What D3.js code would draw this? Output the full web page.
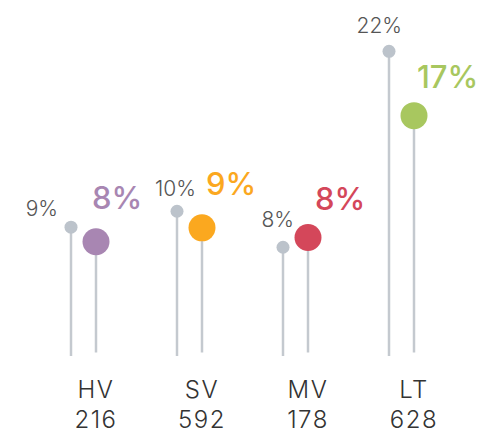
<!DOCTYPE html>
<html>
<head>
<meta charset="utf-8">
<script src="https://cdn.jsdelivr.net/npm/d3@7"></script>
<style>
  body { margin: 0; background: #fff; }
  svg { display: block; font-family: Inter, "Open Sans", sans-serif; }
</style>
</head>
<body>
<div id="chart"></div>
<script>
// data
const categories = ['HV', 'SV', 'MV', 'LT'];
const counts = [216, 592, 178, 628];
const greyValues = [9.3, 10.45, 7.85, 22.0];   // small grey lollipops
const mainValues = [8.0, 9.0, 8.3, 17.1];      // big coloured lollipops
const mainColors = ['#a886b2', '#fba81f', '#d4475a', '#a8c75f'];

// label nudges (layout only)
const greyNudge = [[-13, -11], [19, -15], [11, -20], [13, -18]];
const mainNudge = [[-4, -33], [4, -33], [7, -28], [3, -28]];

const width = 478, height = 437;
const stemColor = '#c4c9cf';

const svg = d3.select('#chart')
    .append('svg')
    .attr('width', width)
    .attr('height', height);

const x = d3.scaleBand()
    .domain(categories)
    .range([30.5, 454.5])
    .padding(0);

const y = d3.scaleLinear()
    .domain([0, 22])
    .range([356, 51.3]);

const offset = 12.5;
const cx = c => x(c) + x.bandwidth() / 2;

const groups = svg.selectAll('g.group')
    .data(categories)
    .join('g')
    .attr('class', 'group');

// grey lollipops
groups.append('line')
    .attr('x1', c => cx(c) - offset)
    .attr('x2', c => cx(c) - offset)
    .attr('y1', y(0))
    .attr('y2', (c, i) => y(greyValues[i]))
    .attr('stroke', stemColor)
    .attr('stroke-width', 2.5);

groups.append('circle')
    .attr('cx', c => cx(c) - offset)
    .attr('cy', (c, i) => y(greyValues[i]))
    .attr('r', 6.5)
    .attr('fill', '#bcc3cb');

groups.append('text')
    .attr('x', (c, i) => cx(c) - offset + greyNudge[i][0])
    .attr('y', (c, i) => y(greyValues[i]) + greyNudge[i][1])
    .attr('text-anchor', 'end')
    .attr('font-size', 21)
    .attr('font-weight', 300)
    .attr('fill', '#555')
    .text((c, i) => Math.round(greyValues[i]) + '%');

// coloured lollipops, shifted up a little like the original
const main = groups.append('g')
    .attr('transform', 'translate(0,-3.5)');

main.append('line')
    .attr('x1', c => cx(c) + offset)
    .attr('x2', c => cx(c) + offset)
    .attr('y1', y(0))
    .attr('y2', (c, i) => y(mainValues[i]))
    .attr('stroke', stemColor)
    .attr('stroke-width', 2.5);

main.append('circle')
    .attr('cx', c => cx(c) + offset)
    .attr('cy', (c, i) => y(mainValues[i]))
    .attr('r', 13.5)
    .attr('fill', (c, i) => mainColors[i]);

main.append('text')
    .attr('x', (c, i) => cx(c) + offset + mainNudge[i][0])
    .attr('y', (c, i) => y(mainValues[i]) + mainNudge[i][1])
    .attr('text-anchor', 'start')
    .attr('font-size', 31)
    .attr('font-weight', 500)
    .attr('fill', (c, i) => mainColors[i])
    .text((c, i) => Math.round(mainValues[i]) + '%');

// category labels and counts
groups.append('text')
    .attr('x', c => cx(c) + offset)
    .attr('y', 398)
    .attr('text-anchor', 'middle')
    .attr('font-size', 24)
    .attr('font-weight', 300)
    .attr('letter-spacing', 1.5)
    .attr('fill', '#333')
    .text(c => c);

groups.append('text')
    .attr('x', c => cx(c) + offset)
    .attr('y', 428)
    .attr('text-anchor', 'middle')
    .attr('font-size', 24)
    .attr('font-weight', 300)
    .attr('letter-spacing', 1.5)
    .attr('fill', '#333')
    .text((c, i) => counts[i]);
</script>
</body>
</html>
